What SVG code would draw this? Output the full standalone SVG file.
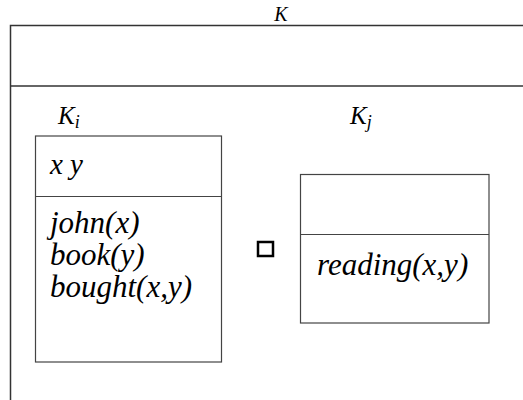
<svg xmlns="http://www.w3.org/2000/svg" width="523" height="400" viewBox="0 0 523 400">
<style>
text{font-family:"Liberation Serif","Times New Roman",serif;font-style:italic;fill:#000}
.frame{fill:none;stroke:#333;stroke-width:1.5}
.box{fill:#fff;stroke:#444;stroke-width:1.2}
</style>
<rect width="523" height="400" fill="#fff"/>
<g id="K">
<text x="281" y="21" font-size="20" text-anchor="middle">K</text>
<path class="frame" d="M523,25.5 H10.5 V400"/>
<line class="frame" x1="10.5" y1="86" x2="523" y2="86"/>
</g>
<g id="Ki">
<text x="58" y="124" font-size="25">K<tspan font-size="18" dy="4">i</tspan></text>
<rect class="box" x="35.5" y="136" width="186" height="226"/>
<line class="box" x1="35.5" y1="196.5" x2="221.5" y2="196.5"/>
<text x="50" y="174" font-size="29">x y</text>
<text x="50" y="233" font-size="31">john(x)</text>
<text x="50" y="265" font-size="31">book(y)</text>
<text x="50" y="297" font-size="31">bought(x,y)</text>
</g>
<g id="op">
<rect x="258" y="242" width="15" height="14" fill="none" stroke="#000" stroke-width="2.5"/>
</g>
<g id="Kj">
<text x="350" y="124" font-size="25">K<tspan font-size="18" dy="4">j</tspan></text>
<rect class="box" x="300.5" y="174.5" width="188.5" height="148.5"/>
<line class="box" x1="300.5" y1="234.5" x2="489" y2="234.5"/>
<text x="317" y="275" font-size="31">reading(x,y)</text>
</g>
<g id="connectors"></g>
</svg>
